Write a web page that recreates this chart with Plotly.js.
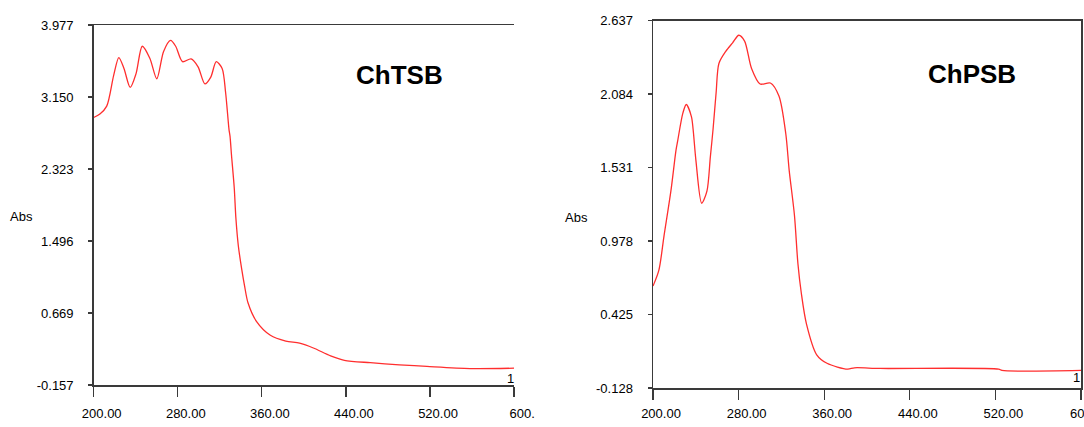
<!DOCTYPE html>
<html>
<head>
<meta charset="utf-8">
<script src="https://cdn.plot.ly/plotly-3.0.1.min.js"></script>
<style>
  html, body { margin: 0; padding: 0; background: #ffffff; }
  #chart { width: 1084px; height: 427px; }
</style>
</head>
<body>
<div id="chart"></div>
<script>
// ---- Data ----
const chtsbWavelength = [200.0, 205.9, 212.4, 219.0, 223.9, 228.8, 234.7, 240.3, 246.2, 253.4, 260.0, 266.5, 273.1, 278.0, 284.5, 292.7, 299.3, 305.8, 311.4, 316.6, 322.2, 325.5, 328.8, 329.7, 331.1, 333.7, 335.3, 337.6, 340.9, 343.5, 346.8, 355.0, 368.1, 382.8, 395.9, 409.0, 425.4, 438.5, 463.1, 490.9, 517.1, 558.1, 600.0];
const chtsbAbs = [2.915, 2.954, 3.045, 3.399, 3.603, 3.478, 3.261, 3.419, 3.733, 3.596, 3.360, 3.674, 3.800, 3.733, 3.556, 3.588, 3.497, 3.301, 3.379, 3.556, 3.478, 3.202, 2.770, 2.701, 2.484, 2.111, 1.757, 1.442, 1.167, 0.984, 0.787, 0.571, 0.414, 0.347, 0.323, 0.268, 0.178, 0.127, 0.099, 0.075, 0.056, 0.032, 0.036];

const chpsbWavelength = [200.0, 205.5, 210.3, 216.7, 221.5, 223.1, 227.9, 231.1, 235.9, 237.5, 240.1, 245.5, 250.4, 253.6, 256.1, 259.0, 261.6, 268.0, 274.4, 280.2, 285.6, 292.1, 300.1, 309.7, 317.7, 324.1, 327.3, 332.2, 335.4, 338.6, 343.4, 353.0, 362.6, 381.9, 388.3, 412.3, 523.0, 526.2, 600.0];
const chpsbAbs = [0.639, 0.759, 1.017, 1.353, 1.662, 1.733, 1.940, 2.005, 1.914, 1.817, 1.585, 1.262, 1.353, 1.611, 1.817, 2.095, 2.314, 2.405, 2.469, 2.526, 2.482, 2.276, 2.159, 2.167, 2.069, 1.785, 1.508, 1.172, 0.811, 0.587, 0.355, 0.122, 0.058, 0.014, 0.024, 0.019, 0.014, 0.004, 0.004];

const xTickVals = [200, 280, 360, 440, 520, 600];
const xTickTextLeft = ["200.00", "280.00", "360.00", "440.00", "520.00", "600."];
const xTickTextRight = ["200.00", "280.00", "360.00", "440.00", "520.00", ""];
const xLastLabelRight = "60";   // truncated label visible at the right edge of the reference
const yTicksLeft = [-0.157, 0.669, 1.496, 2.323, 3.150, 3.977];
const yTickTextLeft = ["-0.157", "0.669", "1.496", "2.323", "3.150", "3.977"];
const yTicksRight = [-0.128, 0.425, 0.978, 1.531, 2.084, 2.637];
const yTickTextRight = ["-0.128", "0.425", "0.978", "1.531", "2.084", "2.637"];
const sampleNames = ["ChTSB", "ChPSB"];
const yAxisLabel = "Abs";
const curveLabel = "1";

// ---- Layout helpers ----
const W = 1084, H = 427;
const px = v => v / W;
const py = v => 1 - v / H;

const tickFont = { family: "Liberation Sans, Arial, sans-serif", size: 13, color: "#000000" };
const axisColor = "#3a3a3a";

function xAxis(domain, ticktext, anchor, mirror, standoff) {
  return {
    domain: domain, anchor: anchor, range: [200, 600],
    tickmode: "array", tickvals: xTickVals, ticktext: ticktext,
    ticks: "outside", ticklen: 10, tickwidth: 1.2, tickcolor: axisColor,
    showline: true, linecolor: axisColor, linewidth: 1.5, mirror: mirror,
    showgrid: false, zeroline: false, tickfont: tickFont,
    ticklabelstandoff: standoff, ticklabelshift: 8, ticklabeloverflow: "allow",
    fixedrange: true
  };
}
function yAxis(domain, vals, text, anchor, mirror) {
  return {
    domain: domain, anchor: anchor, range: [vals[0], vals[vals.length - 1]],
    tickmode: "array", tickvals: vals, ticktext: text,
    ticks: "outside", ticklen: 4, tickwidth: 1.2, tickcolor: axisColor,
    showline: true, linecolor: axisColor, linewidth: 1.5, mirror: mirror,
    showgrid: false, zeroline: false, tickfont: tickFont,
    ticklabelstandoff: 12, ticklabeloverflow: "allow", fixedrange: true
  };
}

const lineStyle = { color: "#ff2e2e", width: 1.3, shape: "spline", smoothing: 0.8 };

const traces = [
  { x: chtsbWavelength, y: chtsbAbs, type: "scatter", mode: "lines", line: lineStyle, xaxis: "x", yaxis: "y", hoverinfo: "skip", showlegend: false },
  { x: chpsbWavelength, y: chpsbAbs, type: "scatter", mode: "lines", line: lineStyle, xaxis: "x2", yaxis: "y2", hoverinfo: "skip", showlegend: false }
];

const labelFont = { family: "Liberation Sans, Arial, sans-serif", size: 13, color: "#000000" };
const titleFont = { family: "Liberation Sans, Arial, sans-serif", size: 26, color: "#000000", weight: "bold" };

const layout = {
  width: W, height: H,
  margin: { l: 0, r: 0, t: 0, b: 0 },
  paper_bgcolor: "#ffffff", plot_bgcolor: "#ffffff",
  showlegend: false,
  xaxis: xAxis([px(93.7), px(514.1)], xTickTextLeft, "y", true, 6),
  yaxis: yAxis([py(385), py(25)], yTicksLeft, yTickTextLeft, "x", false),
  xaxis2: xAxis([px(653), px(1081)], xTickTextRight, "y2", true, 3),
  yaxis2: yAxis([py(388), py(20.5)], yTicksRight, yTickTextRight, "x2", true),
  annotations: [
    { text: "<b>" + sampleNames[0] + "</b>", x: px(399.5), y: py(75), xref: "paper", yref: "paper", showarrow: false, font: titleFont, xanchor: "center", yanchor: "middle" },
    { text: "<b>" + sampleNames[1] + "</b>", x: px(971.5), y: py(74), xref: "paper", yref: "paper", showarrow: false, font: titleFont, xanchor: "center", yanchor: "middle" },
    { text: yAxisLabel, x: px(21), y: py(216), xref: "paper", yref: "paper", showarrow: false, font: labelFont, xanchor: "center", yanchor: "middle" },
    { text: yAxisLabel, x: px(576), y: py(217), xref: "paper", yref: "paper", showarrow: false, font: labelFont, xanchor: "center", yanchor: "middle" },
    { text: curveLabel, x: px(510), y: py(378), xref: "paper", yref: "paper", showarrow: false, font: labelFont, xanchor: "center", yanchor: "middle" },
    { text: curveLabel, x: px(1076), y: py(377), xref: "paper", yref: "paper", showarrow: false, font: labelFont, xanchor: "center", yanchor: "middle" },
    { text: xLastLabelRight, x: px(1077), y: py(413), xref: "paper", yref: "paper", showarrow: false, font: tickFont, xanchor: "center", yanchor: "middle" }
  ]
};

Plotly.newPlot("chart", traces, layout, { staticPlot: true, displayModeBar: false });
</script>
</body>
</html>
